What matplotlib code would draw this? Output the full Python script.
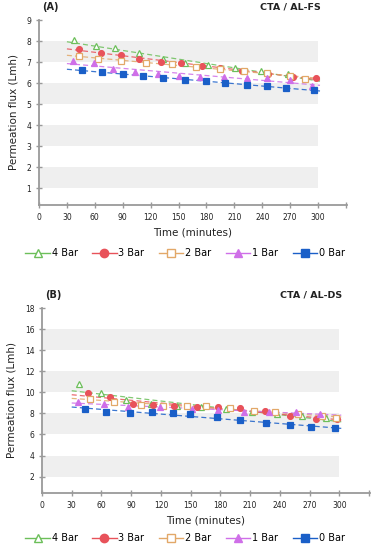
import numpy as np
import matplotlib
matplotlib.use("Agg")
import matplotlib.pyplot as plt

plt.rcParams["font.family"] = ["DejaVu Sans"]

# series colours
green = "#6cbf5a"
red = "#e8525a"
tan = "#e2a868"
purple = "#cf6fe8"
blue = "#1a5fc8"

labels = ["4 Bar", "3 Bar", "2 Bar", "1 Bar", "0 Bar"]

# panel A  (CTA / AL-FS)
a_t4 = [38, 61, 82, 108, 133, 157, 182, 211, 239, 268]
a_f4 = [8.03, 7.74, 7.65, 7.42, 7.16, 6.95, 6.85, 6.72, 6.58, 6.42]
a_t3 = [43, 67, 88, 108, 131, 153, 175, 195, 218, 246, 273, 298]
a_f3 = [7.61, 7.45, 7.35, 7.16, 7.00, 6.97, 6.82, 6.71, 6.58, 6.42, 6.31, 6.26]
a_t2 = [43, 63, 88, 115, 143, 169, 195, 220, 245, 270, 286]
a_f2 = [7.29, 7.15, 7.05, 6.97, 6.89, 6.77, 6.69, 6.58, 6.48, 6.35, 6.21]
a_t1 = [37, 59, 80, 103, 128, 150, 173, 199, 223, 245, 270, 293]
a_f1 = [7.05, 6.97, 6.66, 6.53, 6.42, 6.35, 6.31, 6.29, 6.26, 6.23, 6.13, 5.84]
a_t0 = [46, 68, 90, 112, 133, 157, 180, 200, 224, 245, 265, 295]
a_f0 = [6.63, 6.52, 6.44, 6.34, 6.24, 6.13, 6.08, 6.00, 5.92, 5.84, 5.77, 5.68]

# panel B  (CTA / AL-DS)
b_t4 = [37, 60, 85, 110, 136, 160, 186, 212, 237, 262, 287]
b_f4 = [10.75, 9.96, 9.27, 8.85, 8.70, 8.60, 8.40, 8.14, 7.96, 7.80, 7.60]
b_t3 = [46, 69, 92, 112, 133, 156, 178, 200, 225, 250, 277, 298]
b_f3 = [9.96, 9.52, 8.89, 8.79, 8.70, 8.64, 8.64, 8.48, 8.20, 7.78, 7.46, 7.46]
b_t2 = [48, 73, 100, 122, 146, 165, 190, 214, 235, 258, 283, 297]
b_f2 = [9.40, 9.05, 8.80, 8.75, 8.75, 8.70, 8.48, 8.27, 8.10, 7.95, 7.80, 7.55]
b_t1 = [36, 63, 87, 119, 151, 178, 204, 229, 256, 281]
b_f1 = [9.11, 8.85, 8.63, 8.60, 8.45, 8.30, 8.16, 8.16, 8.12, 7.96]
b_t0 = [43, 65, 89, 111, 132, 149, 177, 200, 226, 250, 271, 296]
b_f0 = [8.41, 8.13, 8.06, 8.09, 8.06, 7.94, 7.68, 7.37, 7.11, 6.89, 6.67, 6.58]

x_ticks = list(range(0, 331, 30))
x_ticklabels = [str(v) if v <= 300 else "" for v in x_ticks]

styles = [
    dict(color=green, marker="^", mfc="white", mec=green),
    dict(color=red, marker="o", mfc=red, mec=red),
    dict(color=tan, marker="s", mfc="white", mec=tan),
    dict(color=purple, marker="^", mfc=purple, mec=purple),
    dict(color=blue, marker="s", mfc=blue, mec=blue),
]


def panel(fig, rect, series, ylim, yticks, bands, tag, title, legend_y):
    ax = fig.add_axes(rect)
    for lo, hi in bands:
        ax.fill_between([0, 300], lo, hi, color="#efefef", lw=0, zorder=0)
    for (t, f), st in zip(series, styles):
        k, b = np.polyfit(t, f, 1)
        xx = np.array([30, 302])
        ax.plot(xx, k * xx + b, ls=(0, (4, 2.5)), lw=0.9, color=st["color"], alpha=0.85, zorder=2)
        ax.plot(t, f, ls="none", marker=st["marker"], ms=4.2, mfc=st["mfc"], mec=st["mec"],
                mew=0.9, zorder=3)
    ax.set_xlim(0, 331)
    ax.set_ylim(*ylim)
    ax.set_xticks(x_ticks)
    ax.set_xticklabels(x_ticklabels)
    ax.set_yticks(yticks)
    for s in ["top", "right"]:
        ax.spines[s].set_visible(False)
    for s in ["left", "bottom"]:
        ax.spines[s].set_color("#9a9a9a")
        ax.spines[s].set_linewidth(1.3)
    ax.tick_params(direction="inout", length=5, width=1, color="#9a9a9a",
                   labelsize=5.5, labelcolor="#222222", pad=3)
    ax.set_xlabel("Time (minutes)", fontsize=7.5, labelpad=4, color="#222222")
    ax.set_ylabel("Permeation flux (Lmh)", fontsize=7.5, labelpad=6, color="#222222")
    ax.text(0.01, 1.045, tag, transform=ax.transAxes, fontsize=7, fontweight="bold",
            ha="left", va="bottom", color="#222222")
    ax.text(0.915, 1.045, title, transform=ax.transAxes, fontsize=6.8, fontweight="bold",
            ha="right", va="bottom", color="#222222")

    handles = []
    for st, lab in zip(styles, labels):
        h, = ax.plot([], [], color=st["color"], lw=1, marker=st["marker"], ms=6,
                     mfc=st["mfc"], mec=st["mec"], label=lab)
        handles.append(h)
    fig.legend(handles=handles, loc="center", bbox_to_anchor=(0.49, legend_y), ncol=5,
               frameon=False, fontsize=7, handlelength=2.5, handletextpad=0.2,
               columnspacing=1.5, borderaxespad=0)
    return ax


fig = plt.figure(figsize=(3.78, 5.5), dpi=100)

panel(fig, [39 / 378, 1 - 205 / 550, 308 / 378, 185 / 550],
      [(a_t4, a_f4), (a_t3, a_f3), (a_t2, a_f2), (a_t1, a_f1), (a_t0, a_f0)],
      (0.2, 9), list(range(1, 10)), [(1, 2), (3, 4), (5, 6), (7, 8)],
      "(A)", "CTA / AL-FS", 1 - 253 / 550)

panel(fig, [42 / 378, 1 - 493 / 550, 328 / 378, 185 / 550],
      [(b_t4, b_f4), (b_t3, b_f3), (b_t2, b_f2), (b_t1, b_f1), (b_t0, b_f0)],
      (0.45, 18), list(range(2, 19, 2)), [(2, 4), (6, 8), (10, 12), (14, 16)],
      "(B)", "CTA / AL-DS", 1 - 538 / 550)

fig.savefig("out.png", dpi=100)
